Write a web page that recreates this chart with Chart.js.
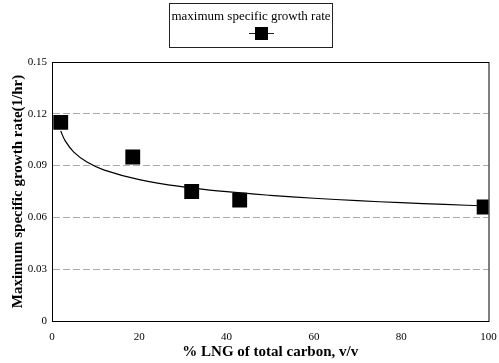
<!DOCTYPE html>
<html>
<head>
<meta charset="utf-8">
<script src="https://cdn.jsdelivr.net/npm/chart.js@4.4.0/dist/chart.umd.min.js"></script>
<style>
  html, body { margin: 0; padding: 0; background: #fff; }
  #wrap { width: 499px; height: 363px; }
</style>
</head>
<body>
<div id="wrap"><canvas id="growthChart"></canvas></div>
<script>
// measured points
var lngPercent = [2, 18.5, 32, 43, 99];
var growthRate = [0.115, 0.095, 0.075, 0.070, 0.066];

// fitted curve
var curveX = [2, 3, 5, 8, 12, 20, 30, 40, 50, 60, 70, 80, 90, 100];
var curveY = [0.110, 0.1045, 0.0978, 0.0921, 0.0874, 0.0819, 0.0777, 0.0749, 0.0728, 0.0711, 0.0697, 0.0685, 0.0675, 0.0666];

var xTickLabels = ['0', '20', '40', '60', '80', '100'];
var yTickLabels = ['0', '0.03', '0.06', '0.09', '0.12', '0.15'];

var seriesName = 'maximum specific growth rate';

function toPoints(xs, ys) {
	var pts = [];
	for (var i = 0; i < xs.length; i++) pts.push({ x: xs[i], y: ys[i] });
	return pts;
}

// draw plot frame and the boxed legend above the chart
var framePlugin = {
	id: 'frameAndLegend',
	afterDraw: function(chart) {
		var ctx = chart.ctx;
		var a = chart.chartArea;
		ctx.save();
		ctx.strokeStyle = '#000';
		ctx.lineWidth = 1;
		ctx.strokeRect(a.left + 0.5, a.top + 0.5, a.right - a.left, a.bottom - a.top);

		// legend box
		ctx.strokeStyle = '#222';
		ctx.strokeRect(169.5, 3.5, 163, 44);
		ctx.fillStyle = '#000';
		ctx.font = '13px "Liberation Serif"';
		ctx.textAlign = 'center';
		ctx.textBaseline = 'middle';
		ctx.fillText(seriesName, 251, 17);
		ctx.beginPath();
		ctx.moveTo(249, 33.5);
		ctx.lineTo(274, 33.5);
		ctx.stroke();
		ctx.fillRect(255, 27, 13, 13);
		ctx.restore();
	}
};

Chart.defaults.font.family = '"Liberation Serif", "Times New Roman", serif';
Chart.defaults.color = '#000';

new Chart(document.getElementById('growthChart'), {
	type: 'scatter',
	data: {
		datasets: [{
			label: seriesName,
			data: toPoints(lngPercent, growthRate),
			pointStyle: 'rect',
			pointRadius: 10.5,
			pointHoverRadius: 10.5,
			backgroundColor: '#000',
			borderColor: '#000',
			borderWidth: 0,
			showLine: false,
			order: 1
		}, {
			label: 'fit',
			data: toPoints(curveX, curveY),
			showLine: true,
			pointRadius: 0,
			borderColor: '#000',
			borderWidth: 1.2,
			tension: 0.4,
			order: 2
		}]
	},
	options: {
		responsive: true,
		maintainAspectRatio: false,
		animation: false,
		layout: { padding: { top: 62, right: 5, left: 0, bottom: 2 } },
		plugins: {
			legend: { display: false },
			tooltip: { enabled: false }
		},
		scales: {
			x: {
				type: 'linear',
				min: 0,
				max: 100,
				ticks: {
					stepSize: 20,
					font: { size: 11 },
					padding: 2,
					callback: function(v, i) { return xTickLabels[i]; }
				},
				grid: { display: false },
				border: { color: '#000' },
				title: {
					display: true,
					text: '% LNG of total carbon, v/v',
					font: { size: 15, weight: 'bold' },
					padding: { top: 2, bottom: 0 }
				},
				afterFit: function(s) { s.height = 40; }
			},
			y: {
				min: 0,
				max: 0.15,
				ticks: {
					stepSize: 0.03,
					font: { size: 11 },
					padding: 5,
					callback: function(v, i) { return yTickLabels[i]; }
				},
				grid: {
					drawTicks: false,
					color: function(c) {
						var i = c.index;
						return (i === 0 || i === yTickLabels.length - 1) ? 'rgba(0,0,0,0)' : '#aaa';
					},
					lineWidth: 1
				},
				border: { color: '#000', dash: [7, 3] },
				title: {
					display: true,
					text: 'Maximum specific growth rate(1/hr)',
					font: { size: 15, weight: 'bold' },
					padding: { top: 9, bottom: 0 }
				},
				afterFit: function(s) { s.width = 52; }
			}
		}
	},
	plugins: [framePlugin]
});
</script>
</body>
</html>
